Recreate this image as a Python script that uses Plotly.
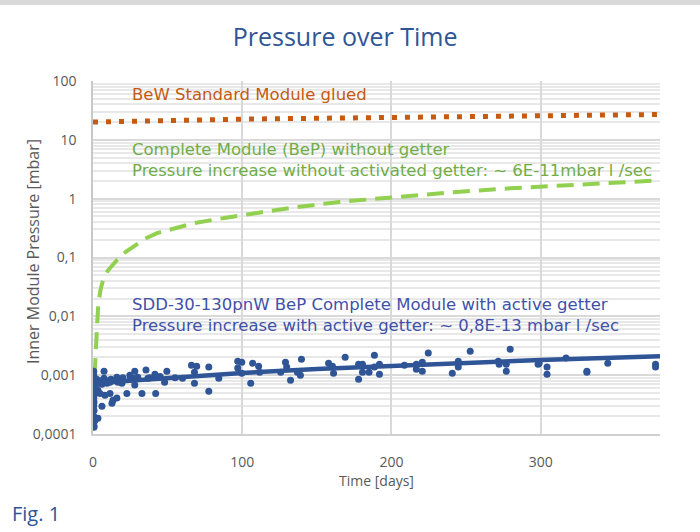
import plotly.graph_objects as go

# ---- data ----
scatter_t = [0.5, 0.5, 0.5, 0.7, 0.5, 0.5, 0.7, 0.5, 0.7, 0.5, 0.7, 0.5, 1.3, 0.5, 0.7, 0.6,
             7.4, 7.4, 6, 3.3, 3.3, 4.7, 8, 11.4, 13.4, 12.7, 16, 16, 22.7, 28, 24.7, 28, 28,
             32.8, 35.5, 36.8, 41.5, 42, 49.5, 48, 9.4, 11.4, 16.7, 19.4,
             66, 69.5, 68, 68, 60, 77.6, 77.6, 84.3, 97, 99.7, 97, 99.7, 105.7, 107, 111, 111.7,
             125.8, 129, 129.8, 132.4, 137, 139.7, 139, 157.9, 160.5, 161.2, 169, 178, 180.6,
             178, 180.6, 185, 188.6, 188.6, 192, 192, 208.7, 216.7, 216.7, 220.7, 220.7, 224.7,
             240.8, 244.8, 244.8, 252.8, 271.6, 272.2, 277, 277, 279.6, 298.3, 299, 304.3, 304.3,
             317, 331, 331, 345, 377, 377,
             1, 2, 2.5, 4, 5, 6, 9, 12, 14, 18, 20, 25, 30, 38, 45, 55]
scatter_p = [1.17e-3, 1.0e-3, 0.89e-3, 0.73e-3, 0.6e-3, 0.55e-3, 0.46e-3, 0.41e-3, 0.35e-3,
             0.3e-3, 0.25e-3, 0.2e-3, 0.17e-3, 0.16e-3, 0.136e-3, 0.13e-3,
             1.17e-3, 0.89e-3, 0.297e-3, 0.186e-3, 0.556e-3, 0.49e-3, 0.457e-3, 0.49e-3,
             0.376e-3, 0.334e-3, 0.41e-3, 0.925e-3, 0.49e-3, 1.17e-3, 1.0e-3, 0.89e-3, 0.68e-3,
             0.49e-3, 1.22e-3, 0.89e-3, 1.04e-3, 0.49e-3, 1.17e-3, 0.76e-3, 0.73e-3, 0.76e-3,
             0.76e-3, 0.73e-3,
             1.48e-3, 1.42e-3, 1.12e-3, 0.73e-3, 0.89e-3, 1.37e-3, 0.535e-3, 0.89e-3, 1.73e-3,
             1.66e-3, 1.32e-3, 1.08e-3, 0.73e-3, 1.6e-3, 1.42e-3, 1.12e-3,
             1.12e-3, 1.66e-3, 1.37e-3, 0.82e-3, 1.12e-3, 1.87e-3, 1.0e-3, 1.6e-3, 1.42e-3,
             1.08e-3, 2.02e-3, 1.54e-3, 1.54e-3, 0.855e-3, 1.12e-3, 1.12e-3, 2.19e-3, 1.37e-3,
             1.54e-3, 1.04e-3, 1.48e-3, 1.54e-3, 1.26e-3, 1.17e-3, 1.66e-3, 2.37e-3,
             1.08e-3, 1.73e-3, 1.37e-3, 2.56e-3, 1.73e-3, 1.54e-3, 1.54e-3, 1.17e-3, 2.77e-3,
             1.54e-3, 1.6e-3, 1.37e-3, 1.04e-3, 1.95e-3, 1.17e-3, 1.12e-3, 1.6e-3, 1.54e-3,
             1.37e-3,
             0.8e-3, 0.7e-3, 0.85e-3, 0.75e-3, 0.8e-3, 0.7e-3, 0.8e-3, 0.85e-3, 0.8e-3, 0.82e-3,
             0.9e-3, 0.85e-3, 0.92e-3, 0.9e-3, 0.95e-3, 0.9e-3]

trend_t = [0, 50, 100, 150, 200, 250, 300, 380]
trend_p = [0.00073, 0.00091, 0.00109, 0.00127, 0.00145, 0.00163, 0.00181, 0.00210]

green_t = [0.9, 1.3, 2.5, 3.5, 5, 6.7, 10, 16, 22, 28, 35, 43, 55, 68, 88, 110, 131, 165,
           203, 240, 280, 330, 380]
green_p = [0.001, 0.0013, 0.0052, 0.0155, 0.028, 0.041, 0.06, 0.09, 0.125, 0.16, 0.21, 0.26,
           0.316, 0.385, 0.47, 0.58, 0.69, 0.88, 1.07, 1.28, 1.5, 1.78, 2.05]

orange_t = [0, 100, 200, 300, 380]
orange_p = [20, 22.5, 24, 26, 27]

y_tickvals = [0.0001, 0.001, 0.01, 0.1, 1, 10, 100]
y_ticktext = ["0,0001", "0,001", "0,01", "0,1", "1", "10", "100"]
x_tickvals = [0, 100, 200, 300]

BLUE = "#2F5597"
GREEN = "#92D050"
ORANGE = "#C55A11"
FONT = "DejaVu Sans"
AXFONT = "Open Sans"
TFONT = "Open Sans"

fig = go.Figure()
fig.add_trace(go.Scatter(x=orange_t, y=orange_p, mode="lines",
                         line=dict(color=ORANGE, width=5, dash="5px,8px"), showlegend=False))
fig.add_trace(go.Scatter(x=green_t, y=green_p, mode="lines",
                         line=dict(color=GREEN, width=4, dash="17px,9px"), showlegend=False))
fig.add_trace(go.Scatter(x=scatter_t, y=scatter_p, mode="markers",
                         marker=dict(color=BLUE, size=7), showlegend=False))
fig.add_trace(go.Scatter(x=trend_t, y=trend_p, mode="lines",
                         line=dict(color=BLUE, width=4.5), showlegend=False))

annos = [
    ("BeW Standard Module glued", 1.779, ORANGE),
    ("Complete Module (BeP) without getter", 0.843, "#70AD47"),
    ("Pressure increase without activated getter: ~ 6E-11mbar l /sec", 0.486, "#70AD47"),
    ("SDD-30-130pnW BeP Complete Module with active getter", -1.793, "#3F51A8"),
    ("Pressure increase with active getter: ~ 0,8E-13 mbar l /sec", -2.150, "#3F51A8"),
]
for txt, yy, col in annos:
    fig.add_annotation(x=24.7, y=yy, xref="x", yref="y", text=txt, showarrow=False,
                       xanchor="left", yanchor="middle",
                       font=dict(family=FONT, size=16.5, color=col))

fig.add_annotation(x=-0.1464, y=-0.2238, xref="paper", yref="paper", text="Fig. 1",
                   showarrow=False, xanchor="left", yanchor="middle",
                   font=dict(family=TFONT, size=20, color=BLUE, weight=500))

# y-axis title placed as rotated text
fig.add_annotation(x=-0.1058, y=0.5156, xref="paper", yref="paper",
                   text="Inner Module Pressure [mbar]", showarrow=False, textangle=-90,
                   xanchor="center", yanchor="middle",
                   font=dict(family=AXFONT, size=16, color="#595959"))

fig.add_shape(type="rect", xref="paper", yref="paper", x0=-0.2, x1=1.1, y0=1.215, y1=1.25,
              fillcolor="#D9D9D9", line_width=0, layer="below")

fig.update_layout(
    width=700, height=532,
    margin=dict(l=93, r=40, t=81, b=98),
    paper_bgcolor="white", plot_bgcolor="white",
    separators=", ",
    title=dict(text="Pressure over Time", x=0.493, xanchor="center", y=0.930, yanchor="middle",
               font=dict(family=TFONT, size=25, color=BLUE, weight=500)),
    font=dict(family=AXFONT, color="#595959", size=14),
)
fig.update_xaxes(range=[0, 380], tickvals=x_tickvals, showgrid=True, gridcolor="#D9D9D9",
                 gridwidth=1.5, zeroline=False, showline=True, linecolor="#D0D0D0", linewidth=1.5,
                 ticks="outside", ticklen=14, tickcolor="rgba(0,0,0,0)",
                 tickfont=dict(size=14, color="#595959"),
                 title=dict(text="Time [days]", font=dict(size=14, color="#595959"), standoff=4))
fig.update_yaxes(type="log", range=[-4, 2], tickvals=y_tickvals, ticktext=y_ticktext,
                 showgrid=True, gridcolor="#D9D9D9", gridwidth=1.5, zeroline=False,
                 showline=True, linecolor="#C8C8C8", linewidth=1.5,
                 ticks="outside", ticklen=12, tickcolor="rgba(0,0,0,0)",
                 tickfont=dict(size=14, color="#595959"),
                 minor=dict(showgrid=True, gridcolor="#E8E8E8", dtick="D1"))

fig.write_html("out.html", config={"displayModeBar": False},
               post_script="document.body.style.margin='0';")
